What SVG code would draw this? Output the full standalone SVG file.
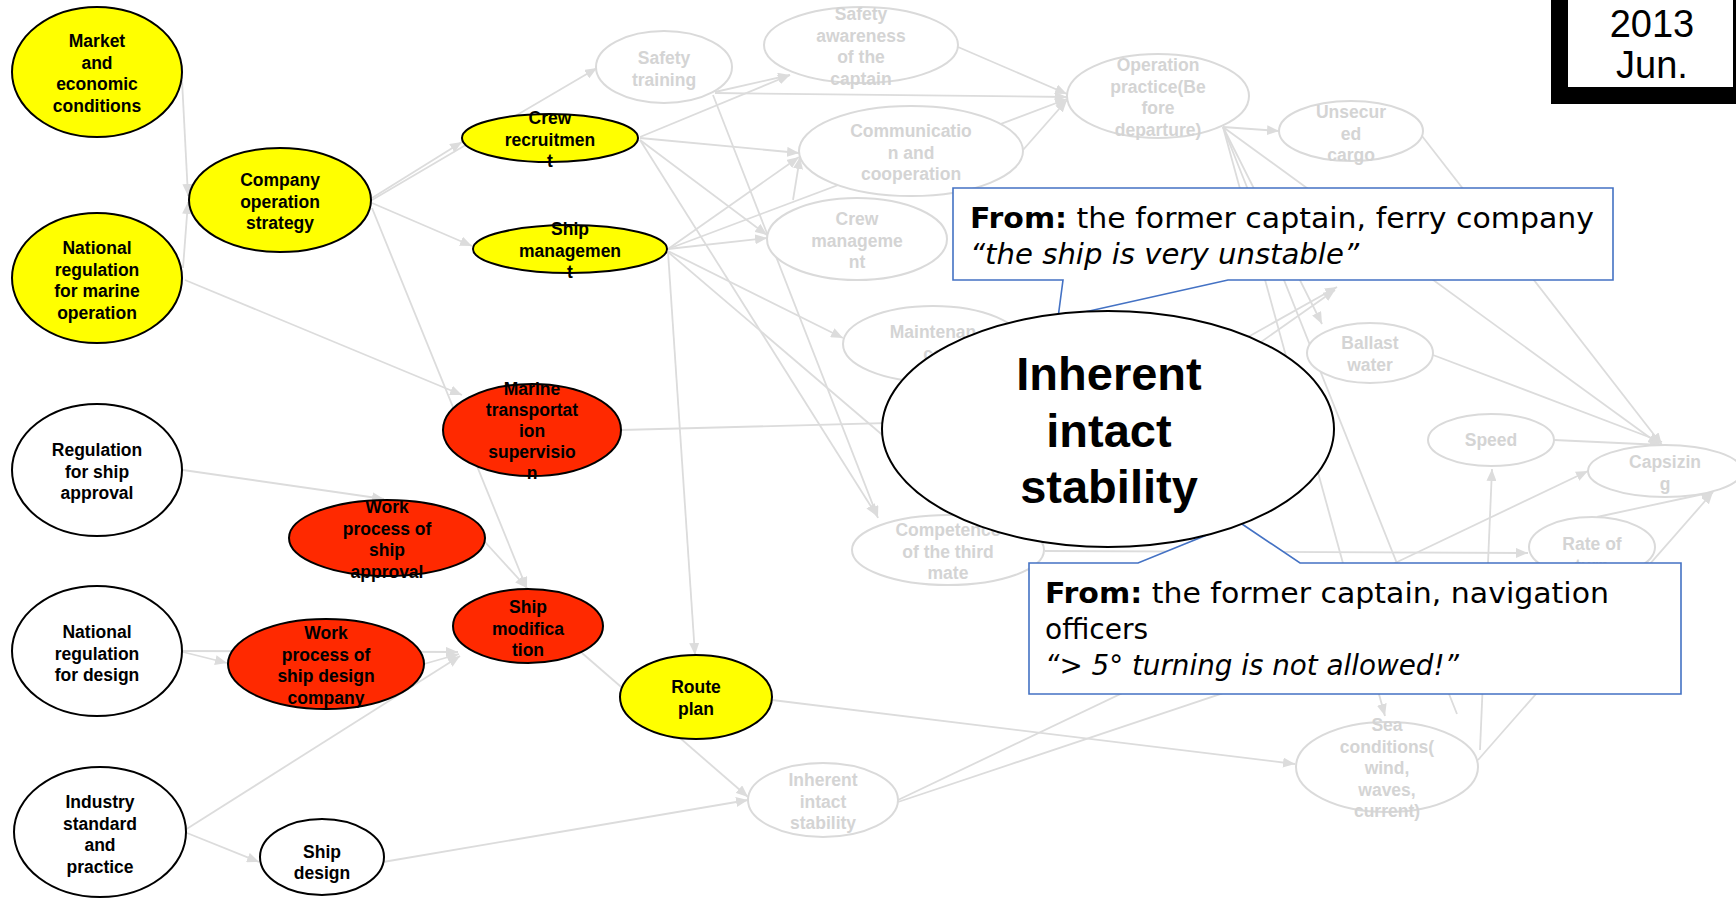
<svg xmlns="http://www.w3.org/2000/svg" width="1736" height="899" viewBox="0 0 1736 899">
<defs>
<style>
.e{stroke:#DCDCDC;stroke-width:1.8;fill:none}
.ea{stroke:#DCDCDC;stroke-width:1.8;fill:none;marker-end:url(#ah)}
.g ellipse{fill:#fff;stroke:#DADADA;stroke-width:2}
.g text{fill:#D4D4D4}
.n ellipse{stroke:#000;stroke-width:2}
.y ellipse{fill:#FFFF00}
.r ellipse{fill:#FF2900}
.w ellipse{fill:#fff}
text{font-family:"Liberation Sans",Arial,sans-serif;font-weight:bold;font-size:17.5px;text-anchor:middle}
.n text{fill:#000}
.co{fill:#fff;stroke:#4472C4;stroke-width:1.6}
.ct{font-family:"DejaVu Sans","Liberation Sans",sans-serif;font-size:28px;font-weight:normal;text-anchor:start;fill:#000}
.ct .b{font-weight:bold}
.ct .i{font-style:italic}
</style>
<marker id="ah" viewBox="0 0 12 10" refX="12" refY="5" markerWidth="12" markerHeight="10" orient="auto" markerUnits="userSpaceOnUse">
<path d="M0,0 L12,5 L0,10 z" fill="#DCDCDC"/>
</marker>
</defs>
<rect width="1736" height="899" fill="#fff"/>

<g id="connectors">
<line class="ea" x1="182" y1="80" x2="188" y2="196"/>
<line class="ea" x1="183" y1="268" x2="188" y2="202"/>
<line class="ea" x1="185" y1="280" x2="462" y2="395"/>
<line class="ea" x1="372" y1="198" x2="462" y2="142"/>
<line class="ea" x1="372" y1="200" x2="597" y2="68"/>
<line class="ea" x1="372" y1="203" x2="472" y2="246"/>
<line class="ea" x1="372" y1="208" x2="527" y2="589"/>
<line class="ea" x1="640" y1="137" x2="790" y2="75"/>
<line class="ea" x1="640" y1="138" x2="799" y2="153"/>
<line class="ea" x1="640" y1="140" x2="767" y2="235"/>
<line class="ea" x1="640" y1="140" x2="877" y2="516"/>
<line class="ea" x1="715" y1="92" x2="790" y2="75"/>
<line class="ea" x1="715" y1="93" x2="1067" y2="97"/>
<line class="ea" x1="713" y1="95" x2="878" y2="518"/>
<line class="ea" x1="958" y1="47" x2="1067" y2="94"/>
<line class="ea" x1="668" y1="249" x2="799" y2="157"/>
<line class="ea" x1="668" y1="249" x2="767" y2="238"/>
<line class="ea" x1="668" y1="249" x2="1067" y2="99"/>
<line class="ea" x1="668" y1="251" x2="843" y2="338"/>
<line class="ea" x1="668" y1="252" x2="695" y2="655"/>
<line class="e" x1="668" y1="252" x2="900" y2="450"/>
<line class="ea" x1="1023" y1="150" x2="1067" y2="100"/>
<line class="ea" x1="793" y1="200" x2="800" y2="157"/>
<line class="ea" x1="1223" y1="127" x2="1279" y2="131"/>
<line class="ea" x1="1223" y1="127" x2="1322" y2="324"/>
<line class="ea" x1="1223" y1="127" x2="1660" y2="445"/>
<line class="e" x1="1223" y1="127" x2="1457" y2="714"/>
<line class="ea" x1="1223" y1="127" x2="1385" y2="716"/>
<line class="ea" x1="1422" y1="136" x2="1662" y2="445"/>
<line class="ea" x1="1433" y1="355" x2="1662" y2="442"/>
<line class="ea" x1="1554" y1="440" x2="1662" y2="445"/>
<line class="ea" x1="1597" y1="517" x2="1713" y2="492"/>
<line class="ea" x1="1478" y1="760" x2="1713" y2="492"/>
<line class="ea" x1="1480" y1="750" x2="1492" y2="469"/>
<line class="ea" x1="898" y1="800" x2="1588" y2="471"/>
<line class="ea" x1="898" y1="802" x2="1540" y2="587"/>
<line class="ea" x1="1045" y1="551" x2="1528" y2="553"/>
<line class="ea" x1="772" y1="700" x2="1295" y2="764"/>
<line class="ea" x1="383" y1="862" x2="748" y2="800"/>
<line class="ea" x1="582" y1="653" x2="748" y2="797"/>
<line class="ea" x1="187" y1="833" x2="259" y2="862"/>
<line class="ea" x1="185" y1="830" x2="460" y2="656"/>
<line class="ea" x1="183" y1="652" x2="227" y2="663"/>
<line class="ea" x1="183" y1="651" x2="458" y2="652"/>
<line class="ea" x1="424" y1="664" x2="459" y2="654"/>
<line class="ea" x1="183" y1="470" x2="384" y2="499"/>
<line class="ea" x1="485" y1="542" x2="527" y2="588"/>
<line class="e" x1="621" y1="430" x2="1000" y2="420"/>
<line class="ea" x1="1100" y1="420" x2="1337" y2="287"/>
<line class="ea" x1="1150" y1="420" x2="1335" y2="290"/>
</g>

<g id="node-safety-training" class="g"><ellipse cx="664" cy="67" rx="68" ry="36"/><text x="664" y="64">Safety</text><text x="664" y="85.5">training</text></g>
<g id="node-safety-awareness" class="g"><ellipse cx="861" cy="45" rx="97" ry="38"/><text x="861" y="20">Safety</text><text x="861" y="41.5">awareness</text><text x="861" y="63">of the</text><text x="861" y="84.5">captain</text></g>
<g id="node-operation-practice" class="g"><ellipse cx="1158" cy="96" rx="91" ry="42"/><text x="1158" y="71">Operation</text><text x="1158" y="92.5">practice(Be</text><text x="1158" y="114">fore</text><text x="1158" y="135.5">departure)</text></g>
<g id="node-unsecured-cargo" class="g"><ellipse cx="1351" cy="131" rx="72" ry="30"/><text x="1351" y="118">Unsecur</text><text x="1351" y="139.5">ed</text><text x="1351" y="161">cargo</text></g>
<g id="node-communication" class="g"><ellipse cx="911" cy="151" rx="112" ry="45"/><text x="911" y="137">Communicatio</text><text x="911" y="158.5">n and</text><text x="911" y="180">cooperation</text></g>
<g id="node-crew-management" class="g"><ellipse cx="857" cy="239" rx="90" ry="41"/><text x="857" y="225">Crew</text><text x="857" y="246.5">manageme</text><text x="857" y="268">nt</text></g>
<g id="node-maintenance" class="g"><ellipse cx="933" cy="344" rx="90" ry="38"/><text x="933" y="338">Maintenan</text><text x="933" y="359.5">ce</text></g>
<g id="node-competence" class="g"><ellipse cx="948" cy="550" rx="96" ry="35"/><text x="948" y="536">Competence</text><text x="948" y="557.5">of the third</text><text x="948" y="579">mate</text></g>
<g id="node-ballast-water" class="g"><ellipse cx="1370" cy="353" rx="63" ry="30"/><text x="1370" y="349">Ballast</text><text x="1370" y="370.5">water</text></g>
<g id="node-speed" class="g"><ellipse cx="1491" cy="440" rx="63" ry="26"/><text x="1491" y="446">Speed</text></g>
<g id="node-capsizing" class="g"><ellipse cx="1665" cy="471" rx="77" ry="26"/><text x="1665" y="468">Capsizin</text><text x="1665" y="489.5">g</text></g>
<g id="node-rate-of-turn" class="g"><ellipse cx="1592" cy="547" rx="63" ry="30"/><text x="1592" y="550">Rate of</text><text x="1592" y="571.5">turn</text></g>
<g id="node-sea-conditions" class="g"><ellipse cx="1387" cy="767" rx="91" ry="45"/><text x="1387" y="731">Sea</text><text x="1387" y="752.5">conditions(</text><text x="1387" y="774">wind,</text><text x="1387" y="795.5">waves,</text><text x="1387" y="817">current)</text></g>
<g id="node-intact-stability-small" class="g"><ellipse cx="823" cy="800" rx="75" ry="37"/><text x="823" y="786">Inherent</text><text x="823" y="807.5">intact</text><text x="823" y="829">stability</text></g>

<g id="node-market" class="n y"><ellipse cx="97" cy="72" rx="85" ry="65"/><text x="97" y="47">Market</text><text x="97" y="68.5">and</text><text x="97" y="90">economic</text><text x="97" y="111.5">conditions</text></g>
<g id="node-company" class="n y"><ellipse cx="280" cy="200" rx="91" ry="52"/><text x="280" y="186">Company</text><text x="280" y="207.5">operation</text><text x="280" y="229">strategy</text></g>
<g id="node-national-marine" class="n y"><ellipse cx="97" cy="278" rx="85" ry="65"/><text x="97" y="254">National</text><text x="97" y="275.5">regulation</text><text x="97" y="297">for marine</text><text x="97" y="318.5">operation</text></g>
<g id="node-crew-recruitment" class="n y"><ellipse cx="550" cy="138" rx="88" ry="24"/><text x="550" y="124">Crew</text><text x="550" y="145.5">recruitmen</text><text x="550" y="167">t</text></g>
<g id="node-ship-management" class="n y"><ellipse cx="570" cy="249" rx="97" ry="24"/><text x="570" y="235">Ship</text><text x="570" y="256.5">managemen</text><text x="570" y="278">t</text></g>
<g id="node-route-plan" class="n y"><ellipse cx="696" cy="697" rx="76" ry="42"/><text x="696" y="693">Route</text><text x="696" y="714.5">plan</text></g>
<g id="node-marine-supervision" class="n r"><ellipse cx="532" cy="430" rx="89" ry="46"/><text x="532" y="395">Marine</text><text x="532" y="416">transportat</text><text x="532" y="437">ion</text><text x="532" y="458">supervisio</text><text x="532" y="479">n</text></g>
<g id="node-work-approval" class="n r"><ellipse cx="387" cy="538" rx="98" ry="38"/><text x="387" y="513">Work</text><text x="387" y="534.5">process of</text><text x="387" y="556">ship</text><text x="387" y="577.5">approval</text></g>
<g id="node-work-design" class="n r"><ellipse cx="326" cy="664" rx="98" ry="45"/><text x="326" y="639">Work</text><text x="326" y="660.5">process of</text><text x="326" y="682">ship design</text><text x="326" y="703.5">company</text></g>
<g id="node-ship-modification" class="n r"><ellipse cx="528" cy="626" rx="75" ry="37"/><text x="528" y="613">Ship</text><text x="528" y="634.5">modifica</text><text x="528" y="656">tion</text></g>
<g id="node-regulation-approval" class="n w"><ellipse cx="97" cy="470" rx="85" ry="66"/><text x="97" y="456">Regulation</text><text x="97" y="477.5">for ship</text><text x="97" y="499">approval</text></g>
<g id="node-national-design" class="n w"><ellipse cx="97" cy="651" rx="85" ry="65"/><text x="97" y="638">National</text><text x="97" y="659.5">regulation</text><text x="97" y="681">for design</text></g>
<g id="node-industry" class="n w"><ellipse cx="100" cy="832" rx="86" ry="65"/><text x="100" y="808">Industry</text><text x="100" y="829.5">standard</text><text x="100" y="851">and</text><text x="100" y="872.5">practice</text></g>
<g id="node-ship-design" class="n w"><ellipse cx="322" cy="857" rx="62" ry="38"/><text x="322" y="858">Ship</text><text x="322" y="879">design</text></g>

<g id="callout-ferry">
<path class="co" d="M953,188 H1613 V280 H1228 L1058,318 L1063,280 H953 Z"/>
<text class="ct" x="970" y="228" textLength="624" lengthAdjust="spacingAndGlyphs"><tspan class="b">From:</tspan> the former captain, ferry company</text>
<text class="ct" x="970" y="264" textLength="389" lengthAdjust="spacingAndGlyphs"><tspan class="i">“the ship is very unstable”</tspan></text>
</g>
<g id="callout-officers">
<path class="co" d="M1029,563 H1138 L1239,522 L1300,563 H1681 V694 H1029 Z"/>
<text class="ct" x="1045" y="603" textLength="564" lengthAdjust="spacingAndGlyphs"><tspan class="b">From:</tspan> the former captain, navigation</text>
<text class="ct" x="1045" y="639" textLength="103" lengthAdjust="spacingAndGlyphs">officers</text>
<text class="ct" x="1045" y="675" textLength="414" lengthAdjust="spacingAndGlyphs"><tspan class="i">“&gt; 5° turning is not allowed!”</tspan></text>
</g>

<g id="node-intact-stability" class="n w">
<ellipse cx="1108" cy="429" rx="226" ry="118"/>
<text x="1109" y="390" style="font-size:47px">Inherent</text>
<text x="1109" y="447" style="font-size:47px">intact</text>
<text x="1109" y="503" style="font-size:47px">stability</text>
</g>

<g id="date-box">
<rect x="1551" y="-20" width="200" height="124" fill="#000"/>
<rect x="1568" y="-20" width="165" height="107" fill="#fff"/>
<text x="1652" y="37" style="font-weight:normal;font-size:38px">2013</text>
<text x="1652" y="78" style="font-weight:normal;font-size:38px">Jun.</text>
</g>
</svg>
